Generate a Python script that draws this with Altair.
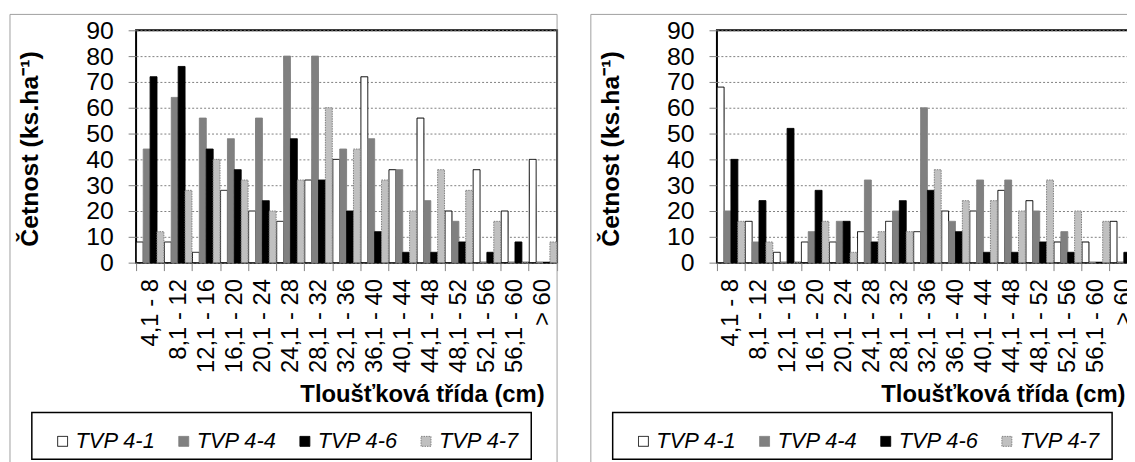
import altair as alt
import pandas as pd

cats = ["4,1 - 8", "8,1 - 12", "12,1 - 16", "16,1 - 20", "20,1 - 24", "24,1 - 28",
        "28,1 - 32", "32,1 - 36", "36,1 - 40", "40,1 - 44", "44,1 - 48", "48,1 - 52",
        "52,1 - 56", "56,1 - 60", "> 60"]
series = ["TVP 4-1", "TVP 4-4", "TVP 4-6", "TVP 4-7"]

# left panel
left_41 = [8, 8, 4, 28, 20, 16, 32, 40, 72, 36, 56, 20, 36, 20, 40]
left_44 = [44, 64, 56, 48, 56, 80, 80, 44, 48, 36, 24, 16, 0, 0, 0]
left_46 = [72, 76, 44, 36, 24, 48, 32, 20, 12, 4, 4, 8, 4, 8, 0]
left_47 = [12, 28, 40, 32, 20, 32, 60, 44, 32, 20, 36, 28, 16, 0, 8]

# right panel
right_41 = [68, 16, 4, 8, 8, 12, 16, 12, 20, 20, 28, 24, 8, 8, 16]
right_44 = [20, 8, 0, 12, 16, 32, 20, 60, 16, 32, 32, 20, 12, 0, 0]
right_46 = [40, 24, 52, 28, 16, 8, 24, 28, 12, 4, 4, 8, 4, 0, 4]
right_47 = [16, 8, 0, 16, 4, 12, 12, 36, 24, 24, 20, 32, 20, 16, 0]

y_ticks = [0, 10, 20, 30, 40, 50, 60, 70, 80, 90]

FONT = "Liberation Sans, Arial, sans-serif"
W, H = 424, 234


def to_long(arrays):
    rows = []
    for s, arr in zip(series, arrays):
        for c, v in zip(cats, arr):
            rows.append({"cat": c, "series": s, "value": v})
    return pd.DataFrame(rows)


one = pd.DataFrame({"k": [0]})

legend = alt.Legend(
    title=None, orient="none", legendX=-85, legendY=403, direction="horizontal",
    columns=4, labelFont=FONT, labelFontSize=22, labelFontStyle="italic",
    labelColor="#000000", symbolType="square", symbolSize=100, symbolStrokeWidth=1,
    labelOffset=2, columnPadding=17, padding=0,
)


def panel(df):
    frame = alt.Chart(one).mark_rect(fillOpacity=0, stroke="#a0a0a0", strokeWidth=1).encode(
        x=alt.value(-127), x2=alt.value(W), y=alt.value(-16), y2=alt.value(436)
    )
    legbox = alt.Chart(one).mark_rect(fillOpacity=0, stroke="#000000", strokeWidth=1.5).encode(
        x=alt.value(-105), x2=alt.value(398), y=alt.value(385), y2=alt.value(432)
    )
    bars = alt.Chart(df).mark_bar(strokeWidth=1).encode(
        x=alt.X("cat:N", sort=cats,
                scale=alt.Scale(paddingInner=0.02, paddingOuter=0.01),
                axis=alt.Axis(title="Tloušťková třída (cm)", labelAngle=-90,
                              labelAlign="right", labelBaseline="middle",
                              tickBand="extent", tickSize=8, tickColor="#808080",
                              labelPadding=8, labelFontSize=24, domain=False, grid=False,
                              titleX=411, titleY=140, titleAlign="right",
                              titleBaseline="alphabetic", titleFontSize=24)),
        xOffset=alt.XOffset("series:N", sort=series,
                            scale=alt.Scale(paddingInner=0, paddingOuter=0)),
        y=alt.Y("value:Q", scale=alt.Scale(domain=[0, 90], nice=False),
                axis=alt.Axis(title="Četnost (ks.ha⁻¹)", values=y_ticks,
                              tickSize=8, tickColor="#808080", labelPadding=15,
                              labelFontSize=25, domain=False, grid=True,
                              gridDash=[2, 2], gridColor="#808080",
                              titleX=-107, titleY=119, titleAlign="center",
                              titleBaseline="middle", titleFontSize=25)),
        fill=alt.Fill("series:N", sort=series,
                      scale=alt.Scale(domain=series,
                                      range=["#ffffff", "#808080", "#000000", "#c0c0c0"]),
                      legend=legend),
        stroke=alt.Stroke("series:N", sort=series,
                          scale=alt.Scale(domain=series,
                                          range=["#000000", "#808080", "#000000", "#808080"]),
                          legend=legend),
        strokeDash=alt.StrokeDash("series:N", sort=series,
                                  scale=alt.Scale(domain=series,
                                                  range=[[1, 0], [1, 0], [1, 0], [1.5, 1]]),
                                  legend=legend),
    )
    return alt.layer(frame, legbox, bars).properties(width=W, height=H)


left = panel(to_long([left_41, left_44, left_46, left_47]))
right = panel(to_long([right_41, right_44, right_46, right_47]))

chart = alt.hconcat(left, right, spacing=30).resolve_scale(
    fill="independent", stroke="independent", strokeDash="independent"
).resolve_legend(
    fill="independent", stroke="independent", strokeDash="independent"
).properties(
    autosize=alt.AutoSizeParams(type="none"),
    padding={"left": 129, "top": 20, "right": 998, "bottom": 434},
    background="#ffffff",
).configure_view(
    stroke="#000000", strokeWidth=2
).configure_axis(
    labelFont=FONT, titleFont=FONT, labelColor="#000000", titleColor="#000000",
    titleFontWeight="bold"
)

chart.save("out.html", embed_options={"renderer": "svg", "actions": False})
